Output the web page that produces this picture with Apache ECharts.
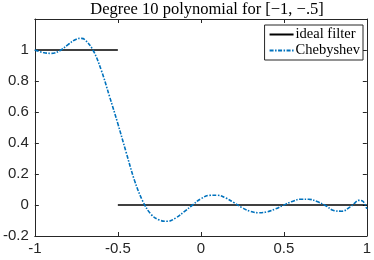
<!DOCTYPE html>
<html>
<head>
<meta charset="utf-8">
<script src="https://cdn.jsdelivr.net/npm/echarts@6/dist/echarts.min.js"></script>
<style>html,body{margin:0;padding:0;background:#fff;}#c{width:374px;height:260px;}</style>
</head>
<body>
<div id="c"></div>
<script>
const titleText = 'Degree 10 polynomial for [\u22121, \u2212.5]';
const seriesNames = ['ideal filter', 'Chebyshev'];
const idealPassX = [-1, -0.5];
const idealPassY = [1, 1];
const idealStopX = [-0.5, 1];
const idealStopY = [0, 0];
const chebX = [-1, -0.95, -0.9, -0.85, -0.8, -0.75, -0.72, -0.7, -0.65, -0.6, -0.55, -0.5, -0.45, -0.4, -0.35, -0.3, -0.25, -0.2, -0.15, -0.1, -0.05, 0, 0.05, 0.1, 0.15, 0.2, 0.25, 0.3, 0.35, 0.4, 0.45, 0.5, 0.55, 0.6, 0.65, 0.7, 0.75, 0.8, 0.85, 0.9, 0.925, 0.95, 0.975, 1];
const chebY = [1.0, 0.984, 0.978, 0.995, 1.035, 1.07, 1.075, 1.068, 1.0, 0.87, 0.70, 0.525, 0.34, 0.16, 0.025, -0.06, -0.097, -0.105, -0.083, -0.043, 0.0, 0.04, 0.062, 0.063, 0.045, 0.015, -0.018, -0.042, -0.05, -0.044, -0.025, 0.0, 0.023, 0.037, 0.037, 0.022, -0.003, -0.035, -0.04, -0.012, 0.01, 0.03, 0.025, -0.025];
const xTicks = [-1, -0.5, 0, 0.5, 1];
const yTicks = [-0.2, 0, 0.2, 0.4, 0.6, 0.8, 1];

const zip = (a, b) => a.map((v, i) => [v, b[i]]);
const axisColor = '#262626';
const sans = '"Liberation Sans", Arial, sans-serif';
const serif = '"Liberation Serif", "DejaVu Serif", serif';

const chart = echarts.init(document.getElementById('c'), null, {renderer: 'canvas'});
const baseX = {
  type: 'value', min: -1, max: 1, interval: 0.5,
  axisLine: {show: true, onZero: false, lineStyle: {color: axisColor, width: 1}},
  axisTick: {show: true, inside: true, length: 4, lineStyle: {color: axisColor}},
  splitLine: {show: false}
};
const baseY = {
  type: 'value', min: -0.2, max: 1.2, interval: 0.2,
  axisLine: {show: true, onZero: false, lineStyle: {color: axisColor, width: 1}},
  axisTick: {show: true, inside: true, length: 4, lineStyle: {color: axisColor}},
  splitLine: {show: false}
};
chart.setOption({
  animation: false,
  backgroundColor: '#fff',
  title: {
    text: titleText, left: 202, textAlign: 'center', top: -4,
    textStyle: {fontFamily: serif, fontSize: 16.5, fontWeight: 'normal', color: '#000'}
  },
  grid: {left: 34, right: 4, top: 19, bottom: 24, containLabel: false},
  legend: {
    orient: 'vertical', right: 11, top: 25,
    data: seriesNames,
    backgroundColor: '#fff', borderColor: axisColor, borderWidth: 1,
    padding: [2, 3, 2, 4], itemGap: 1, itemWidth: 24, itemHeight: 12,
    itemStyle: {opacity: 0},
    textStyle: {fontFamily: serif, fontSize: 14.5, color: '#000', padding: [0, 0, 0, -3]}
  },
  xAxis: [
    Object.assign({}, baseX, {
      position: 'bottom',
      axisLabel: {show: true, color: axisColor, fontFamily: sans, fontSize: 15, margin: 5,
        formatter: v => xTicks.some(t => Math.abs(t - v) < 1e-9) ? String(+v.toFixed(2)) : ''}
    }),
    Object.assign({}, baseX, {position: 'top', axisLabel: {show: false}})
  ],
  yAxis: [
    Object.assign({}, baseY, {
      position: 'left',
      axisLabel: {show: true, color: axisColor, fontFamily: sans, fontSize: 15, margin: 6,
        formatter: v => yTicks.some(t => Math.abs(t - v) < 1e-9) ? String(+v.toFixed(2)) : ''}
    }),
    Object.assign({}, baseY, {position: 'right', axisLabel: {show: false}})
  ],
  series: [
    {
      name: seriesNames[0], type: 'line', symbol: 'none', z: 2,
      data: zip(idealPassX, idealPassY),
      lineStyle: {color: '#000', width: 1.6}, itemStyle: {color: '#000'}
    },
    {
      name: seriesNames[0], type: 'line', symbol: 'none', z: 2,
      data: zip(idealStopX, idealStopY),
      lineStyle: {color: '#000', width: 1.6}, itemStyle: {color: '#000'}
    },
    {
      name: seriesNames[1], type: 'line', symbol: 'none', z: 3, smooth: 0.4,
      data: zip(chebX, chebY),
      lineStyle: {color: '#0072BD', width: 1.6, type: [4, 1.5, 1.5, 1.5]},
      itemStyle: {color: '#0072BD'}
    }
  ]
});
</script>
</body>
</html>
